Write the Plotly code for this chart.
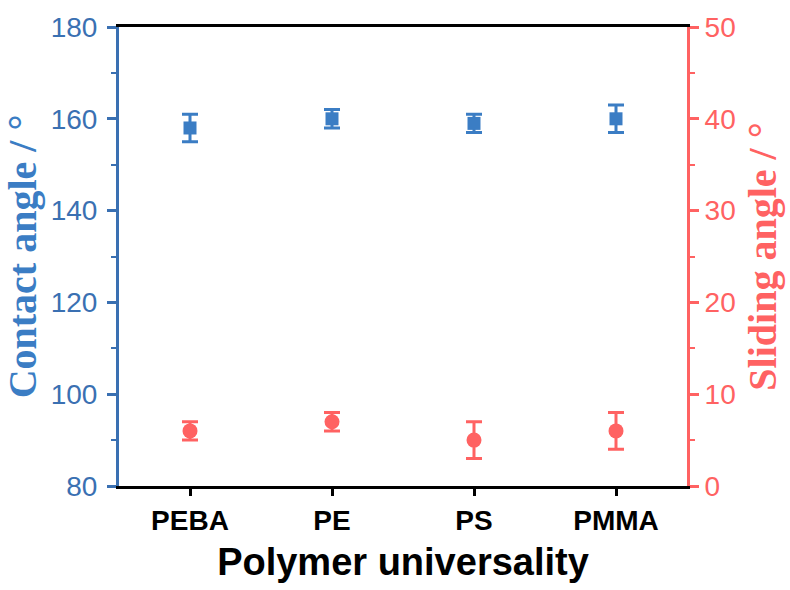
import plotly.graph_objects as go

categories = ["PEBA", "PE", "PS", "PMMA"]
contact_angle = [158, 160, 159, 160]
contact_err = [3, 2, 2, 3]
sliding_angle = [6, 7, 5, 6]
sliding_err = [1, 1, 2, 2]

BLUE = "#3b7dc4"
BLUE_AX = "#3a70b2"
RED = "#ff6262"

fig = go.Figure()
fig.add_trace(go.Scatter(
    x=categories, y=contact_angle, mode="markers",
    marker=dict(symbol="square", size=13, color=BLUE),
    error_y=dict(type="data", array=contact_err, color=BLUE, thickness=3, width=8),
    showlegend=False, yaxis="y"))
fig.add_trace(go.Scatter(
    x=categories, y=sliding_angle, mode="markers",
    marker=dict(symbol="circle", size=15, color=RED),
    error_y=dict(type="data", array=sliding_err, color=RED, thickness=3, width=8),
    showlegend=False, yaxis="y2"))

fig.update_layout(
    width=790, height=590,
    margin=dict(l=119, r=101, t=27, b=104),
    paper_bgcolor="white", plot_bgcolor="white",
    xaxis=dict(
        range=[-0.5, 3.5], showline=True, linecolor="black", linewidth=3, mirror=True,
        ticks="outside", ticklen=7, tickwidth=3, tickcolor="black", showgrid=False,
        tickfont=dict(family="Liberation Sans, Arial", size=28, color="black", weight="bold"),
        title=dict(text="Polymer universality",
                   font=dict(family="Liberation Sans, Arial", size=38, color="black", weight="bold"),
                   standoff=14),
    ),
    yaxis=dict(
        range=[80, 180], dtick=20, showline=True, linecolor=BLUE_AX, linewidth=3,
        ticks="outside", ticklen=9, tickwidth=3, tickcolor=BLUE_AX, showgrid=False, zeroline=False,
        minor=dict(dtick=10, ticks="outside", ticklen=5, tickwidth=2, tickcolor=BLUE_AX),
        ticklabelstandoff=4,
        tickfont=dict(family="Liberation Sans, Arial", size=28, color=BLUE_AX),
        title=dict(text="Contact angle / °",
                   font=dict(family="Liberation Serif, Times New Roman", size=40, color=BLUE, weight="bold"),
                   standoff=6),
    ),
    yaxis2=dict(
        range=[0, 50], dtick=10, overlaying="y", side="right", showline=True, linecolor=RED, linewidth=3,
        ticks="outside", ticklen=9, tickwidth=3, tickcolor=RED, showgrid=False, zeroline=False,
        minor=dict(dtick=5, ticks="outside", ticklen=5, tickwidth=2, tickcolor=RED),
        tickfont=dict(family="Liberation Sans, Arial", size=28, color=RED),
        title=dict(text="Sliding angle / °",
                   font=dict(family="Liberation Serif, Times New Roman", size=40, color=RED, weight="bold"),
                   standoff=14),
    ),
)

fig.write_html("out.html")
